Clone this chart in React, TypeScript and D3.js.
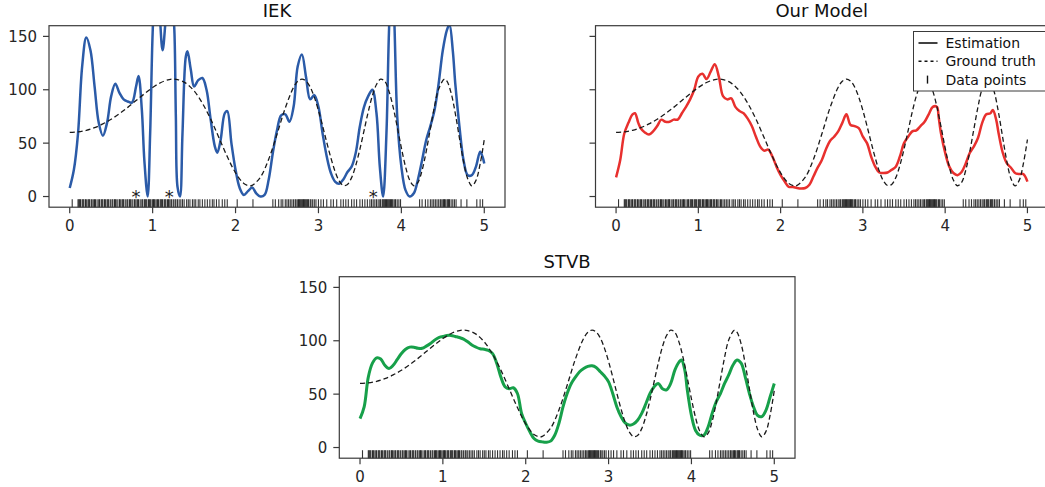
import React from 'react';
import * as d3 from 'd3';

const FONT = '"DejaVu Sans", sans-serif';

const xTicks = [0, 1, 2, 3, 4, 5];
const yTicks = [0, 50, 100, 150];

// ground truth
const groundTruth = [
  [0, 60], [0.1, 60.5], [0.2, 62], [0.3, 64.5], [0.4, 68], [0.5, 72.4], [0.6, 77.6], [0.7, 83.5],
  [0.8, 89.9], [0.9, 96.2], [1.0, 102.1], [1.1, 106.8], [1.2, 109.6], [1.25, 110], [1.3, 109.6],
  [1.4, 106.2], [1.5, 98.9], [1.6, 87.4], [1.7, 72.5], [1.8, 55.1], [1.9, 37.4], [2.0, 22.2],
  [2.1, 12.2], [2.17, 10], [2.2, 10.4], [2.3, 18.1], [2.4, 35], [2.5, 58.3], [2.6, 83],
  [2.7, 102.3], [2.75, 107.9], [2.8, 110], [2.85, 108.2], [2.9, 102.6], [2.95, 93.1], [3.0, 80.6],
  [3.05, 66.1], [3.1, 50.8], [3.15, 36.2], [3.2, 23.6], [3.25, 14.6], [3.3, 10.3], [3.35, 11.3],
  [3.4, 17.7], [3.45, 29.2], [3.5, 44.4], [3.55, 61.8], [3.6, 79.2], [3.65, 94.3], [3.7, 104.9],
  [3.75, 109.9], [3.8, 107.9], [3.85, 98.7], [3.9, 84], [3.95, 65.3], [4.0, 45.6], [4.05, 28],
  [4.1, 15.4], [4.15, 10.1], [4.2, 13.2], [4.25, 24.6], [4.3, 42.4], [4.35, 63.6], [4.4, 84.4],
  [4.45, 100.7], [4.52, 110], [4.55, 108], [4.6, 97], [4.65, 78], [4.7, 55], [4.75, 32.8],
  [4.8, 16.7], [4.85, 10], [4.9, 15.1], [4.95, 30.5], [5.0, 53.4],
];

const iekEstimate = [
  [0, 8], [0.05, 25], [0.1, 59], [0.15, 122], [0.2, 149], [0.25, 137], [0.3, 103], [0.35, 69],
  [0.4, 57], [0.45, 69], [0.5, 94], [0.55, 105.6], [0.6, 97], [0.65, 91], [0.7, 89], [0.75, 88],
  [0.8, 103], [0.83, 113], [0.87, 81], [0.9, 34], [0.94, 0], [0.97, 59], [1.0, 153], [1.03, 200],
  [1.07, 185], [1.12, 137], [1.16, 168], [1.2, 195], [1.24, 175], [1.26, 159], [1.28, 75],
  [1.3, 9], [1.33, 0], [1.36, 59], [1.4, 131], [1.42, 136], [1.46, 119], [1.5, 103], [1.55, 109],
  [1.6, 111], [1.65, 100], [1.7, 72], [1.75, 47], [1.78, 41], [1.82, 53], [1.87, 78], [1.9, 80],
  [1.95, 50], [2.0, 25], [2.05, 8], [2.1, 1.5], [2.15, 5], [2.2, 8.4], [2.25, 3], [2.3, 0],
  [2.35, 1.5], [2.4, 16], [2.45, 41], [2.5, 62], [2.55, 76], [2.6, 77], [2.65, 70], [2.7, 84],
  [2.75, 122], [2.8, 133], [2.85, 112], [2.9, 91], [2.95, 95], [3.0, 84], [3.05, 59], [3.1, 37.5],
  [3.15, 22], [3.2, 14], [3.25, 12], [3.3, 16], [3.35, 23], [3.4, 28], [3.45, 41], [3.5, 66],
  [3.55, 84], [3.6, 94], [3.65, 100], [3.7, 78], [3.74, 28], [3.78, 0], [3.82, 59], [3.85, 153],
  [3.88, 210], [3.91, 175], [3.95, 75], [4.0, 28], [4.05, 6], [4.1, 0], [4.15, 3], [4.2, 16],
  [4.25, 34], [4.3, 53], [4.35, 66], [4.4, 81], [4.45, 106], [4.5, 137], [4.55, 156], [4.58, 161],
  [4.62, 137], [4.65, 106], [4.7, 66], [4.75, 34], [4.8, 20], [4.85, 20], [4.9, 28], [4.95, 42],
  [4.98, 37], [5.0, 31],
];

const ourEstimate = [
  [0, 18], [0.05, 34], [0.1, 59], [0.15, 69], [0.2, 77], [0.23, 78], [0.27, 69], [0.3, 64],
  [0.35, 60], [0.4, 58], [0.45, 61], [0.5, 66], [0.55, 72], [0.6, 70], [0.65, 70], [0.7, 72],
  [0.75, 72], [0.8, 78], [0.85, 84], [0.9, 91], [0.95, 100], [1.0, 112.5], [1.05, 115], [1.1, 110],
  [1.15, 117], [1.2, 124], [1.25, 112], [1.3, 94], [1.35, 91], [1.4, 92], [1.45, 84], [1.5, 80],
  [1.55, 78], [1.6, 73], [1.65, 66], [1.7, 56], [1.75, 47], [1.8, 43], [1.85, 44], [1.9, 37.5],
  [1.95, 28], [2.0, 20], [2.05, 14], [2.1, 9], [2.15, 9], [2.2, 8], [2.25, 7.5], [2.3, 8],
  [2.35, 11], [2.4, 19], [2.45, 27], [2.5, 34], [2.55, 44], [2.6, 52], [2.65, 56], [2.7, 61],
  [2.75, 69], [2.8, 77], [2.85, 67], [2.9, 66], [2.95, 64], [3.0, 56], [3.05, 50], [3.1, 37.5],
  [3.15, 28], [3.2, 22.5], [3.25, 22], [3.3, 22.5], [3.35, 25], [3.4, 28], [3.45, 37.5], [3.5, 50],
  [3.55, 56], [3.6, 61], [3.65, 62], [3.7, 66], [3.75, 70], [3.8, 77], [3.85, 84], [3.9, 84],
  [3.92, 75], [3.95, 59], [4.0, 41], [4.05, 28], [4.1, 22], [4.15, 20], [4.2, 23], [4.25, 31],
  [4.3, 41], [4.35, 47], [4.4, 55], [4.45, 69], [4.5, 77], [4.55, 78], [4.58, 81], [4.62, 72],
  [4.65, 59], [4.7, 41], [4.75, 31], [4.8, 27], [4.85, 22], [4.9, 21], [4.95, 21], [5.0, 14],
];

const stvbEstimate = [
  [0, 27], [0.05, 38], [0.1, 66], [0.15, 79], [0.2, 84], [0.25, 83], [0.3, 77], [0.35, 74],
  [0.4, 77], [0.45, 82.5], [0.5, 88], [0.55, 92], [0.6, 94], [0.65, 94], [0.7, 93], [0.75, 93],
  [0.8, 95], [0.85, 97.5], [0.9, 100.6], [0.95, 103], [1.0, 104], [1.05, 105], [1.1, 105],
  [1.15, 104], [1.2, 103], [1.25, 101.6], [1.3, 99], [1.35, 96], [1.4, 94], [1.45, 92.5],
  [1.5, 92], [1.55, 91], [1.6, 88], [1.65, 79], [1.7, 66], [1.75, 57], [1.8, 55], [1.85, 56],
  [1.9, 50.6], [1.95, 32], [2.0, 22.5], [2.05, 14.7], [2.1, 8.4], [2.15, 6], [2.2, 5.3], [2.25, 5],
  [2.3, 6], [2.35, 11.5], [2.4, 22.5], [2.45, 38], [2.5, 50.6], [2.55, 60], [2.6, 66], [2.65, 71],
  [2.7, 74], [2.75, 76], [2.8, 76.5], [2.85, 75], [2.9, 71], [2.95, 67], [3.0, 61.5], [3.05, 50.6],
  [3.1, 38], [3.15, 29], [3.2, 23], [3.25, 21], [3.3, 22], [3.35, 25.6], [3.4, 32], [3.45, 41],
  [3.5, 50.6], [3.55, 57], [3.6, 60], [3.65, 55], [3.7, 54], [3.75, 60], [3.8, 72.5], [3.85, 80],
  [3.88, 82], [3.92, 72.5], [3.95, 54], [4.0, 30], [4.05, 16], [4.1, 11.5], [4.15, 11.5],
  [4.2, 19], [4.25, 32], [4.3, 43], [4.35, 50.6], [4.4, 60], [4.45, 68], [4.5, 77], [4.55, 82],
  [4.6, 79], [4.65, 66], [4.7, 50.6], [4.75, 38], [4.8, 30], [4.85, 29], [4.9, 35], [4.95, 47.5],
  [5.0, 60],
];

// observation locations (rug)
const dataPoints = [
  0.03, 0.10, 0.11, 0.12, 0.13, 0.15, 0.16, 0.17, 0.19, 0.20, 0.22, 0.23, 0.24, 0.26, 0.27, 0.29,
  0.30, 0.31, 0.33, 0.35, 0.36, 0.38, 0.39, 0.40, 0.42, 0.43, 0.45, 0.46, 0.47, 0.49, 0.51, 0.52,
  0.54, 0.55, 0.56, 0.58, 0.60, 0.61, 0.63, 0.64, 0.65, 0.67, 0.69, 0.70, 0.72, 0.73, 0.74, 0.76,
  0.78, 0.79, 0.81, 0.82, 0.83, 0.85, 0.87, 0.88, 0.90, 0.91, 0.92, 0.93, 0.95, 0.96, 0.97, 0.98,
  1.00, 1.01, 1.02, 1.03, 1.05, 1.06, 1.07, 1.09, 1.10, 1.11, 1.12, 1.14, 1.15, 1.16, 1.18, 1.19,
  1.20, 1.22, 1.23, 1.25, 1.27, 1.28, 1.30, 1.32, 1.34, 1.36, 1.38, 1.41, 1.43, 1.45, 1.48, 1.50,
  1.52, 1.55, 1.57, 1.60, 1.63, 1.66, 1.69, 1.72, 1.74, 1.77, 1.80, 1.84, 1.87, 1.90, 2.02, 2.21,
  2.45, 2.48, 2.52, 2.55, 2.57, 2.60, 2.62, 2.64, 2.66, 2.68, 2.70, 2.72, 2.73, 2.75, 2.76, 2.77,
  2.78, 2.79, 2.80, 2.81, 2.82, 2.83, 2.84, 2.85, 2.86, 2.87, 2.88, 2.90, 2.91, 2.93, 2.95, 2.97,
  3.00, 3.03, 3.06, 3.10, 3.15, 3.18, 3.22, 3.27, 3.30, 3.33, 3.36, 3.40, 3.43, 3.46, 3.50, 3.53,
  3.56, 3.59, 3.62, 3.64, 3.66, 3.68, 3.70, 3.72, 3.74, 3.75, 3.77, 3.78, 3.79, 3.80, 3.81, 3.82,
  3.83, 3.84, 3.85, 3.86, 3.87, 3.88, 3.89, 3.90, 3.92, 3.93, 3.95, 3.97, 3.99, 4.22, 4.25, 4.29,
  4.32, 4.35, 4.37, 4.39, 4.41, 4.43, 4.45, 4.47, 4.48, 4.50, 4.51, 4.52, 4.53, 4.55, 4.56, 4.57,
  4.58, 4.60, 4.62, 4.64, 4.66, 4.72, 4.79, 4.91, 4.95, 4.98,
];

const iekStars = [0.8, 1.2, 3.66];

const legendItems = ['Estimation', 'Ground truth', 'Data points'];

const AXIS = '#3a3a3a';
const TEXT = '#262626';

function Panel({ id, title, left, top, width, height, est, color, lw, showYLabels, stars, legend }) {
  const x = d3.scaleLinear().domain([-0.25, 5.25]).range([0, width]);
  const y = d3.scaleLinear().domain([-10, 160]).range([height, 0]);
  const line = d3.line<number[]>()
    .x(d => x(d[0]))
    .y(d => y(d[1]))
    .curve(d3.curveCatmullRom.alpha(0.5));

  return (
    <g transform={`translate(${left},${top})`}>
      <defs>
        <clipPath id={id}>
          <rect x={0} y={0} width={width} height={height} />
        </clipPath>
      </defs>
      <text x={width / 2} y={-9} textAnchor="middle" fontSize={18} fill="#111" fontFamily={FONT}>{title}</text>

      {/* rug */}
      <g stroke="#111" strokeOpacity={0.85} strokeWidth={1.1}>
        {dataPoints.map((d, i) => (
          <line key={i} x1={x(d)} x2={x(d)} y1={height - 8} y2={height} />
        ))}
      </g>

      <g clipPath={`url(#${id})`}>
        <path d={line(est) || ''} fill="none" stroke={color} strokeWidth={lw} strokeLinejoin="round" />
        <path d={line(groundTruth) || ''} fill="none" stroke="#1a1a1a" strokeWidth={1.3} strokeDasharray="5,3" />
      </g>

      {stars && stars.map((s, i) => (
        <text key={i} x={x(s)} y={y(4) + 11} textAnchor="middle" fontSize={18} fill="#222" fontFamily={FONT}>*</text>
      ))}

      <rect x={0} y={0} width={width} height={height} fill="none" stroke={AXIS} strokeWidth={1.2} />

      {xTicks.map(t => (
        <g key={t} transform={`translate(${x(t)},${height})`}>
          <line y1={0} y2={6} stroke={AXIS} strokeWidth={1.2} />
          <text y={24} textAnchor="middle" fontSize={15} fill={TEXT} fontFamily={FONT}>{t}</text>
        </g>
      ))}
      {yTicks.map(t => (
        <g key={t} transform={`translate(0,${y(t)})`}>
          <line x1={-6} x2={0} stroke={AXIS} strokeWidth={1.2} />
          {showYLabels && (
            <text x={-12} dy="0.36em" textAnchor="end" fontSize={15} fill={TEXT} fontFamily={FONT}>{t}</text>
          )}
        </g>
      ))}

      {legend && (
        <g transform={`translate(${legend.x},${legend.y})`}>
          <rect x={0} y={0} width={140} height={59.5} fill="#fff" stroke={AXIS} strokeWidth={1} />
          {legendItems.map((label, i) => {
            const cy = 11.5 + i * 18.3;
            return (
              <g key={label}>
                {i === 0 && <line x1={5} x2={24} y1={cy} y2={cy} stroke="#111" strokeWidth={1.6} />}
                {i === 1 && <line x1={5} x2={24} y1={cy} y2={cy} stroke="#111" strokeWidth={1.4} strokeDasharray="3,3" />}
                {i === 2 && <line x1={14} x2={14} y1={cy - 4} y2={cy + 4} stroke="#111" strokeWidth={1.4} />}
                <text x={32} y={cy} dy="0.36em" fontSize={14} fill="#111" fontFamily={FONT}>{label}</text>
              </g>
            );
          })}
        </g>
      )}
    </g>
  );
}

export default function App() {
  return (
    <svg width={1045} height={487} style={{ position: 'absolute', left: 0, top: 0, background: '#fff' }}>
      <Panel id="c1" title="IEK" left={49} top={25.7} width={456} height={181.5}
        est={iekEstimate} color="#2b5ba8" lw={2.5} showYLabels stars={iekStars} />
      <Panel id="c2" title="Our Model" left={595.5} top={25.7} width={452.5} height={181.5}
        est={ourEstimate} color="#e8302e" lw={2.5} showYLabels={false} legend={{ x: 318, y: 5.8 }} />
      <Panel id="c3" title="STVB" left={339.3} top={276.7} width={455.7} height={181.5}
        est={stvbEstimate} color="#17a04a" lw={3} showYLabels />
    </svg>
  );
}
